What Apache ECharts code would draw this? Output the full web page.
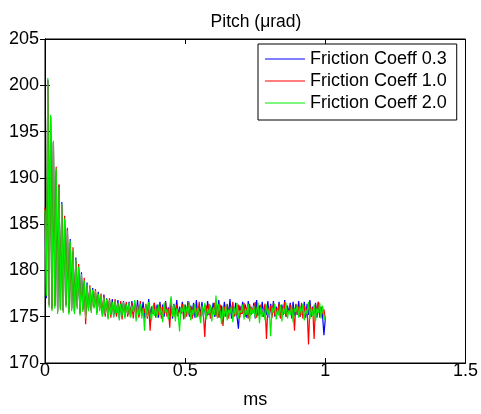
<!DOCTYPE html>
<html>
<head>
<meta charset="utf-8">
<script src="https://cdn.jsdelivr.net/npm/echarts@6/dist/echarts.min.js"></script>
<style>
  html, body { margin: 0; padding: 0; background: #fff; }
  #chart { width: 481px; height: 414px; }
</style>
</head>
<body>
<div id="chart"></div>
<script>
// Sample spacing of the simulated pitch traces (ms)
const timeStep = 0.005;

const seriesNames = ['Friction Coeff 0.3', 'Friction Coeff 1.0', 'Friction Coeff 2.0'];
const seriesColors = ['#0000ff', '#ff0000', '#00ee00'];

const xTicks = [0, 0.5, 1, 1.5];
const yTicks = [170, 175, 180, 185, 190, 195, 200, 205];

// Pitch (µrad), one sample every timeStep
const pitchCoeff03 = [
  186.2, 177.0, 200.6, 176.3, 196.6, 175.9, 193.9, 176.2, 190.8, 175.6,
  189.2, 176.0, 187.4, 175.7, 185.5, 176.3, 184.5, 175.5, 183.4, 175.9,
  182.0, 175.6, 181.4, 176.1, 180.2, 175.4, 179.8, 175.8, 178.7, 175.1,
  178.7, 175.9, 178.0, 175.7, 178.1, 176.1, 177.6, 175.5, 177.7, 175.9,
  177.1,
  175.1, 177.4, 175.2, 177.0, 174.9, 176.8, 175.3, 176.9, 175.0, 176.6,
  175.2, 176.8, 174.8, 176.5, 175.3, 176.7, 175.0, 176.4, 175.2, 176.6,
  175.0, 176.7, 175.3, 176.4, 174.9, 176.8, 175.1, 176.3, 175.4, 176.6,
  174.8, 176.2, 175.2, 176.9, 175.0, 176.1, 175.3, 176.5, 175.1, 176.3,
  174.9, 176.6, 175.2, 176.3, 175.0, 176.7, 175.3, 176.0, 175.1, 176.5,
  174.8, 176.4, 175.2, 176.8, 175.0, 176.1, 175.3, 176.6, 174.9, 176.3,
  175.2, 176.7, 175.0, 176.2, 175.4, 176.5, 174.9, 176.8, 175.2, 176.0,
  175.3, 176.6, 175.0, 176.3, 174.8, 176.7, 175.2, 176.1, 175.4, 176.5,
  175.0, 176.4, 175.3, 176.8, 174.9, 176.2, 175.2, 176.6, 175.0, 176.3,
  175.3, 176.9, 174.8, 176.1, 175.2, 176.5, 175.0, 173.7, 176.2, 175.3,
  176.6, 175.0, 176.3, 174.9, 176.7, 175.2, 176.1, 175.4, 176.5, 174.8,
  176.8, 175.1, 176.2, 175.3, 176.6, 175.0, 176.0, 175.2, 176.7, 174.9,
  176.4, 175.2, 176.7, 175.0, 176.1, 175.3, 176.6, 174.9, 176.3, 175.2,
  176.8, 175.0, 176.2, 175.4, 176.5, 174.8, 176.6, 175.1, 176.3, 175.2,
  176.7, 175.0, 176.2, 175.3, 176.6, 174.9, 176.4, 175.2, 176.8, 175.0,
  176.1, 175.3, 176.5, 174.9, 176.6, 175.1, 176.0, 175.2, 173.0, 174.8
];

const pitchCoeff10 = [
  186.8, 177.4, 200.5, 176.2, 196.5, 175.8, 193.8, 176.1, 191.2, 175.5,
  189.3, 175.9, 187.0, 175.6, 185.9, 176.2, 184.6, 175.4, 183.0, 175.8,
  182.5, 175.5, 181.0, 176.0, 180.7, 175.3, 179.4, 175.7, 179.2, 174.2,
  178.3, 175.8, 178.4, 175.6, 177.7, 176.0, 178.0, 175.4, 177.3, 175.8,
  177.5,
  175.2, 177.3, 175.0, 176.7, 175.1, 177.0, 174.9, 176.5, 175.3, 176.9,
  175.0, 176.4, 175.2, 176.7, 174.7, 176.5, 175.1, 176.6, 175.0, 176.2,
  175.3, 176.5, 174.8, 176.6, 175.2, 176.3, 174.9, 176.7, 175.1, 176.0,
  175.4, 176.4, 174.8, 176.2, 173.5, 176.1, 175.3, 176.5, 174.9, 176.0,
  175.2, 176.4, 174.8, 176.1, 175.3, 176.6, 175.0, 175.9, 173.8, 176.5,
  175.2, 176.0, 174.9, 176.3, 175.1, 175.8, 175.4, 176.4, 174.7, 176.2,
  175.0, 176.5, 175.2, 176.1, 174.8, 176.3, 175.4, 175.9, 175.0, 176.6,
  174.9, 176.0, 175.3, 172.8, 176.2, 175.1, 176.4, 174.8, 176.0, 175.3,
  176.5, 175.0, 176.2, 174.9, 176.3, 175.2, 174.0, 176.1, 175.3, 176.4,
  174.8, 176.0, 175.4, 176.6, 175.0, 175.8, 175.2, 176.3, 174.9, 176.1,
  175.3, 176.5, 175.0, 176.0, 174.8, 176.4, 175.2, 175.9, 175.4, 176.6,
  174.9, 176.1, 175.1, 176.3, 175.0, 175.8, 176.4, 172.6, 176.0, 175.3,
  176.2, 174.9, 176.5, 175.1, 175.9, 175.3, 176.4, 174.8, 176.1, 175.2,
  176.6, 175.0, 175.8, 175.4, 176.3, 174.9, 176.0, 173.5, 176.4, 175.2,
  176.1, 175.0, 176.5, 174.8, 176.2, 175.3, 175.9, 172.0, 176.3, 175.1,
  176.0, 172.6, 176.4, 175.2, 176.6, 174.9, 176.1, 175.3, 175.8, 174.8
];

const pitchCoeff20 = [
  186.5, 177.2, 200.8, 176.0, 196.8, 175.6, 194.0, 175.9, 191.0, 175.3,
  189.0, 175.7, 187.2, 175.4, 185.6, 176.0, 184.3, 175.2, 183.2, 175.6,
  182.2, 175.3, 181.2, 175.8, 180.4, 175.1, 179.6, 175.5, 178.9, 174.8,
  178.5, 175.6, 178.2, 175.4, 177.9, 175.9, 177.8, 175.2, 177.5, 175.6,
  177.3,
  175.0, 177.1, 175.3, 176.9, 174.7, 176.8, 175.2, 176.6, 174.9, 176.7,
  175.4, 176.5, 174.6, 176.4, 175.1, 176.6, 174.8, 176.3, 175.3, 176.5,
  174.9, 176.2, 175.5, 176.8, 174.5, 176.1, 175.2, 176.4, 174.8, 175.9,
  173.5, 176.3, 175.0, 176.6, 175.3, 174.6, 176.2, 175.1, 176.0, 174.9,
  176.3, 175.2, 176.0, 174.4, 176.5, 175.4, 175.8, 174.7, 176.1, 177.2,
  175.0, 176.3, 174.5, 175.9, 175.3, 173.4, 176.0, 175.5, 176.4, 174.8,
  176.1, 175.3, 176.6, 174.6, 175.8, 175.1, 176.4, 174.9, 176.0, 175.4,
  174.3, 176.2, 175.0, 176.5, 174.7, 175.9, 175.3, 176.3, 174.5, 176.0,
  175.2, 177.3, 174.8, 176.4, 175.5, 174.2, 176.1, 175.0, 176.3, 174.6,
  175.8, 175.3, 176.2, 174.4, 176.0, 175.1, 176.5, 174.8, 175.7, 175.4,
  176.3, 174.7, 175.9, 175.2, 176.4, 174.5, 176.0, 175.3, 176.2, 174.9,
  175.6, 176.5, 174.3, 176.1, 175.0, 175.8, 174.6, 176.3, 175.2, 175.9,
  172.9, 176.0, 175.4, 176.4, 174.7, 175.8, 175.1, 176.3, 174.5, 176.0,
  175.3, 176.5, 174.8, 175.7, 175.2, 176.2, 174.4, 175.9, 175.5, 176.3,
  174.9, 176.1, 175.2, 176.4, 174.6, 175.8, 175.3, 176.6, 174.7, 176.0,
  175.1, 176.3, 174.5, 175.9, 175.4, 176.5, 174.8, 176.2, 175.0, 174.6
];

const seriesValues = [pitchCoeff03, pitchCoeff10, pitchCoeff20];

const FONT = '"Liberation Sans", Arial, sans-serif';

function toPairs(values) {
  return values.map((v, i) => [+(i * timeStep).toFixed(4), v]);
}

const chart = echarts.init(document.getElementById('chart'), null, { renderer: 'canvas' });

const axisLineStyle = { color: '#000', width: 1 };

chart.setOption({
  animation: false,
  backgroundColor: '#fff',
  title: {
    text: 'Pitch (\u03bcrad)',
    left: 251,
    textAlign: 'center',
    top: 8,
    textStyle: { fontFamily: FONT, fontSize: 17.5, fontWeight: 'normal', color: '#000' }
  },
  legend: {
    orient: 'vertical',
    left: 258,
    top: 44,
    padding: [6, 10, 8, 7],
    itemGap: 4,
    itemWidth: 40,
    itemHeight: 1,
    icon: 'rect',
    borderColor: '#000',
    borderWidth: 1,
    backgroundColor: '#fff',
    textStyle: { fontFamily: FONT, fontSize: 18, color: '#000' },
    data: seriesNames
  },
  grid: {
    left: 45, right: 14, top: 39, bottom: 48,
    show: true, borderColor: '#000', borderWidth: 1, backgroundColor: 'transparent'
  },
  xAxis: [{
    type: 'value',
    min: 0, max: 1.5, interval: 0.5,
    name: 'ms',
    nameLocation: 'middle',
    nameGap: 28,
    nameTextStyle: { fontFamily: FONT, fontSize: 18, color: '#000' },
    axisLine: { show: true, lineStyle: axisLineStyle },
    axisTick: { show: true, inside: true, length: 5, lineStyle: axisLineStyle },
    axisLabel: {
      fontFamily: FONT, fontSize: 18, color: '#000', margin: -1,
      formatter: v => (xTicks.indexOf(v) >= 0 ? String(v) : '')
    },
    splitLine: { show: false }
  }, {
    type: 'value', position: 'top',
    min: 0, max: 1.5, interval: 0.5,
    axisLine: { show: true, lineStyle: axisLineStyle },
    axisTick: { show: true, inside: true, length: 5, lineStyle: axisLineStyle },
    axisLabel: { show: false },
    splitLine: { show: false }
  }],
  yAxis: [{
    type: 'value',
    min: 170, max: 205, interval: 5,
    axisLine: { show: true, lineStyle: axisLineStyle },
    axisTick: { show: true, inside: true, length: 5, lineStyle: axisLineStyle },
    axisLabel: {
      fontFamily: FONT, fontSize: 18, color: '#000', margin: 6,
      padding: [0, 0, 6, 0],
      formatter: v => (yTicks.indexOf(v) >= 0 ? String(v) : '')
    },
    splitLine: { show: false }
  }, {
    type: 'value', position: 'right',
    min: 170, max: 205, interval: 5,
    axisLine: { show: true, lineStyle: axisLineStyle },
    axisTick: { show: true, inside: true, length: 5, lineStyle: axisLineStyle },
    axisLabel: { show: false },
    splitLine: { show: false }
  }],
  series: seriesValues.map((vals, k) => ({
    name: seriesNames[k],
    type: 'line',
    xAxisIndex: 0,
    yAxisIndex: 0,
    data: toPairs(vals),
    showSymbol: false,
    symbol: 'none',
    sampling: null,
    color: seriesColors[k],
    lineStyle: { color: seriesColors[k], width: 1.2 },
    emphasis: { disabled: true },
    z: 2 + k
  }))
});
</script>
</body>
</html>
